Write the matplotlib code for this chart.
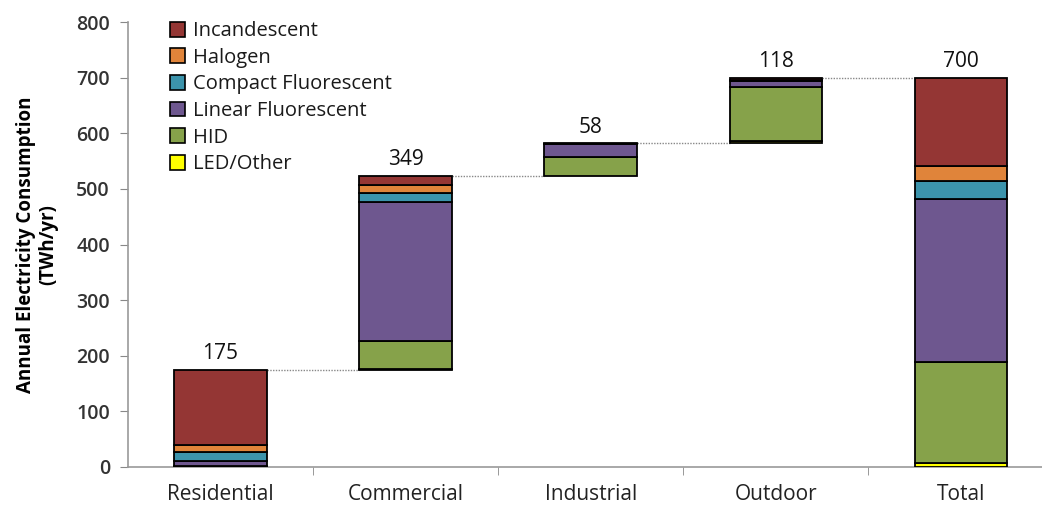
import matplotlib
matplotlib.use("Agg")
import matplotlib.pyplot as plt
from matplotlib.patches import Patch
import numpy as np

plt.rcParams['font.family'] = ['Open Sans', 'DejaVu Sans']

categories = ["Residential", "Commercial", "Industrial", "Outdoor", "Total"]
sectors = ["Residential", "Commercial", "Industrial", "Outdoor"]
lamp_types = ["Incandescent", "Halogen", "Compact Fluorescent", "Linear Fluorescent", "HID", "LED/Other"]

incandescent = [136, 17, 1, 4]
halogen = [12, 15, 0, 1]
cfl = [17, 15, 0, 1]
linear_fl = [8, 250, 24, 11]
hid = [1, 50, 33, 97]
led_other = [1, 2, 0, 4]

colors = ["#943634", "#E0843A", "#3C94AC", "#6E578F", "#86A24A", "#FFFF00"]

series = [incandescent, halogen, cfl, linear_fl, hid, led_other]
# stacking order bottom -> top: LED, HID, Linear, CFL, Halogen, Incandescent
stack_order = [5, 4, 3, 2, 1, 0]

sector_totals = np.array([sum(s[i] for s in series) for i in range(len(sectors))])
grand = [sum(s) for s in series]

fig = plt.figure(figsize=(10.42, 5.08), dpi=100)
ax = fig.add_axes([128/1042, 1-467/508, 1-128/1042, (467-22)/508])

width = 0.5
bases = np.concatenate([[0], np.cumsum(sector_totals)[:-1]])
for i in range(len(sectors)):
    b = bases[i]
    for k in stack_order:
        v = series[k][i]
        if v <= 0:
            continue
        ax.bar(i, v, width, bottom=b, color=colors[k], edgecolor='black', linewidth=1.3, zorder=3)
        b += v
# total column
b = 0
for k in stack_order:
    v = grand[k]
    ax.bar(4, v, width, bottom=b, color=colors[k], edgecolor='black', linewidth=1.3, zorder=3)
    b += v

tops = list(bases + sector_totals) + [sum(grand)]
labels = [str(int(t)) for t in sector_totals] + [str(int(sum(grand)))]
for i in range(5):
    ax.text(i, tops[i] + 10, labels[i], ha='center', va='bottom', fontsize=15, color='#111111', zorder=4)

# connectors
for i in range(4):
    y = tops[i]
    ax.plot([i + width/2, i + 1 - width/2], [y, y], linestyle=(0, (1, 1)), color='#888888', linewidth=1.0, zorder=2)

ax.set_xlim(-0.5, (1042-221)/185)
ax.set_ylim(0, 800)
ax.set_yticks(range(0, 801, 100))
ax.set_xticks(range(5))
ax.set_xticklabels(categories, fontsize=15, color='#222222')
ax.set_xticks([0.5, 1.5, 2.5, 3.5], minor=True)
ax.tick_params(axis='x', which='major', length=0, pad=12)
ax.tick_params(axis='x', which='minor', length=6, color='#888888', direction='out')
ax.tick_params(axis='y', length=6, color='#888888', labelsize=14, labelcolor='#333333', pad=7)
for lab in ax.get_yticklabels():
    lab.set_fontweight('semibold')

for s in ['top', 'right']:
    ax.spines[s].set_visible(False)
for s in ['left', 'bottom']:
    ax.spines[s].set_color('#999999')
    ax.spines[s].set_linewidth(1.2)

ax.set_ylabel("Annual Electricity Consumption\n(TWh/yr)", fontsize=13.5, fontweight='bold', labelpad=13, linespacing=1.15)

handles = [Patch(facecolor=colors[k], edgecolor='black', linewidth=1.2, label=lamp_types[k]) for k in range(6)]
leg = ax.legend(handles=handles, loc='upper left', bbox_to_anchor=((162-128)/(1042-128), 1.02),
                frameon=False, fontsize=14.5, handlelength=0.75, handleheight=0.75, handletextpad=0.4,
                labelspacing=0.33, borderaxespad=0)
for t in leg.get_texts():
    t.set_color('#1a1a1a')

fig.savefig("out.png", dpi=100)
